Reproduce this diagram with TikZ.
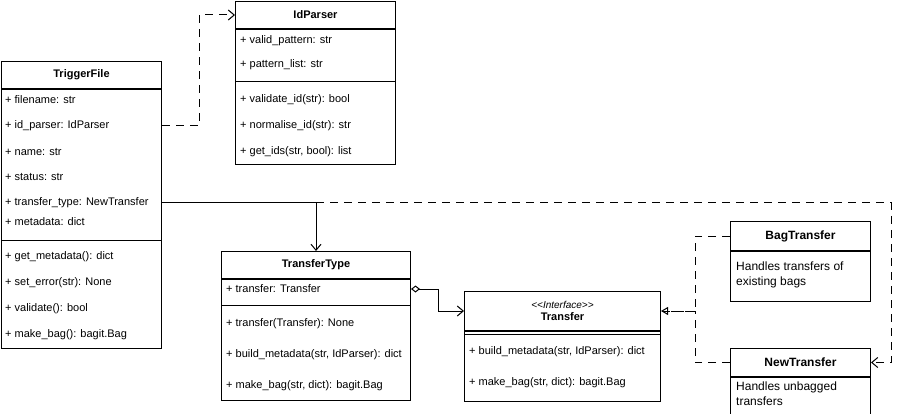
\documentclass[tikz,border=0pt]{standalone}
\usepackage{fontspec}
\setmainfont{Liberation Sans}
\usetikzlibrary{arrows.meta}
\tikzset{
    every node/.style={font=\fontsize{11}{13}\selectfont},
    head/.style={draw, line width=1pt, anchor=north west, inner sep=0pt,
        font=\fontsize{11}{13}\selectfont\bfseries},
    body/.style={draw, line width=1pt, anchor=north west, inner sep=0pt},
    row/.style={anchor=west, inner sep=0pt},
    note/.style={anchor=north west, align=left, inner sep=0pt,
        font=\fontsize{12}{15}\selectfont},
    dep/.style={line width=1pt, dash pattern=on 8pt off 6pt},
    assoc/.style={line width=1pt},
    openarrow/.style={-{Straight Barb[length=6pt, width=10pt]}},
}

\begin{document}
\begin{tikzpicture}[x=1pt, y=-1pt]
    \useasboundingbox (0,0) rectangle (899,414);
    % TriggerFile
    \node[head, minimum width=160, minimum height=27] (trigger) at (1,61) {TriggerFile};
    \node[body, minimum width=160, minimum height=259] (triggerbody) at (trigger.south west) {};
    \draw[line width=1pt] (1,240) -- (161,240);
    \foreach \y/\txt [count=\i] in {100/{+ filename: str}, 126/{+ id\_parser: IdParser},
        152/{+ name: str}, 177/{+ status: str}, 203/{+ transfer\_type: NewTransfer},
        222/{+ metadata: dict}, 257/{+ get\_metadata(): dict}, 283/{+ set\_error(str): None},
        309/{+ validate(): bool}, 335/{+ make\_bag(): bagit.Bag}}
        \node[row] (trigger\i) at (5,\y) {\txt};
    % IdParser
    \node[head, minimum width=160, minimum height=27] (idparser) at (235,1) {IdParser};
    \node[body, minimum width=160, minimum height=135] (idparserbody) at (idparser.south west) {};
    \draw[line width=1pt] (235,82) -- (395,82);
    \foreach \y/\txt [count=\i] in {41/{+ valid\_pattern: str}, 65/{+ pattern\_list: str},
        100/{+ validate\_id(str): bool}, 126/{+ normalise\_id(str): str},
        152/{+ get\_ids(str, bool): list}}
        \node[row] (idparser\i) at (240,\y) {\txt};
    % TransferType
    \node[head, minimum width=189, minimum height=27] (transfertype) at (221,251) {TransferType};
    \node[body, minimum width=189, minimum height=121] (transfertypebody) at (transfertype.south west) {};
    \draw[line width=1pt] (221,305) -- (410,305);
    \foreach \y/\txt [count=\i] in {289/{+ transfer: Transfer}, 324/{+ transfer(Transfer): None},
        355/{+ build\_metadata(str, IdParser): dict}, 386/{+ make\_bag(str, dict): bagit.Bag}}
        \node[row] (transfertype\i) at (226,\y) {\txt};
    % Transfer (interface)
    \node[head, minimum width=196, minimum height=39, align=center] (transfer) at (464,291)
        {{\fontsize{10}{12}\selectfont\mdseries\itshape{<}{<}Interface{>}{>}}\\[-1pt]Transfer};
    \node[body, minimum width=196, minimum height=70] (transferbody) at (transfer.south west) {};
    \draw[line width=1pt] (464,334) -- (660,334);
    \foreach \y/\txt [count=\i] in {352/{+ build\_metadata(str, IdParser): dict},
        383/{+ make\_bag(str, dict): bagit.Bag}}
        \node[row] (transfer\i) at (469,\y) {\txt};
    % BagTransfer
    \node[head, minimum width=140, minimum height=29, font=\fontsize{12}{14}\selectfont\bfseries]
        (bagtransfer) at (730,221) {BagTransfer};
    \node[body, minimum width=140, minimum height=50] (bagtransferbody) at (bagtransfer.south west) {};
    \node[note] (bagtext) at (736,262) {Handles transfers of\\existing bags};
    % NewTransfer
    \node[head, minimum width=140, minimum height=28, font=\fontsize{12}{14}\selectfont\bfseries]
        (newtransfer) at (730,348) {NewTransfer};
    \node[body, minimum width=140, minimum height=37] (newtransferbody) at (newtransfer.south west) {};
    \node[note] (newtext) at (736,382) {Handles unbagged\\transfers};

    % connectors
    \draw[dep, openarrow] (trigger2 -| trigger.east) -- ++(37,0) |- (idparser.west);
    \draw[dep, openarrow] (trigger5 -| trigger.east) -- ++(729,0) |- (newtransfer.east);
    \draw[assoc, openarrow] (trigger5 -| trigger.east) -| (transfertype.north);
    \draw[assoc, {Diamond[open, length=9pt, width=7pt]}-{Straight Barb[length=6pt, width=10pt]}]
        (transfertype1 -| transfertype.east) -- ++(27,0) |- (transfer.east -| transfer.west);
    \draw[dep, -{Triangle[open, length=7pt, width=8pt]}] (bagtransfer.west) -- ++(-35,0) |- (transfer.east);
    \draw[dep] (newtransfer.west) -- ++(-35,0) |- (transfer.east);
\end{tikzpicture}
\end{document}
